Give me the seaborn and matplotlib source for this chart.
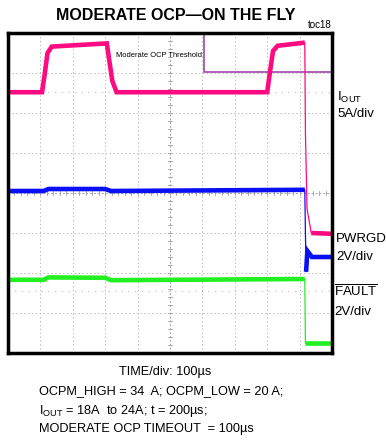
import numpy as np
import pandas as pd
import matplotlib
matplotlib.use('Agg')
import matplotlib.pyplot as plt
import seaborn as sns

sns.set_style('white')
plt.rcParams['font.family'] = ['Liberation Sans', 'DejaVu Sans']
plt.rcParams['text.color'] = 'black'

# ---- data (time in µs, level in screen divisions) ----
iout_t = [0, 105, 112, 122, 135, 305, 311, 322, 335, 800, 808, 818, 832, 916, 918, 923, 936, 1000]
iout_v = [2.52, 2.52, 2.9, 3.5, 3.66, 3.74, 3.4, 2.8, 2.52, 2.52, 3.0, 3.55, 3.68, 3.76, 1.5, -0.4, -1.0, -1.02]

pwrgd_t = [0, 110, 125, 300, 318, 916, 918, 920, 924, 938, 1000]
pwrgd_v = [0.05, 0.05, 0.1, 0.1, 0.05, 0.08, -1.0, -1.97, -1.45, -1.6, -1.6]

fault_t = [0, 110, 125, 300, 318, 916, 918, 1000]
fault_v = [-2.17, -2.17, -2.11, -2.12, -2.18, -2.15, -3.76, -3.76]

thr_t = [605, 605, 1000]
thr_v = [4.0, 3.02, 3.02]

traces = [
    ('IOUT', iout_t, iout_v, '#FF0A80', (916, 936)),
    ('PWRGD', pwrgd_t, pwrgd_v, '#0A10F5', (916, 920)),
    ('FAULT', fault_t, fault_v, '#22F022', (916, 918)),
]

W, H = 386, 443
fig = plt.figure(figsize=(W / 100, H / 100), dpi=100)
ax = fig.add_axes([8 / W, 1 - 353 / H, (332 - 8) / W, (353 - 33) / H])

ax.set_xlim(0, 1000)
ax.set_ylim(-4, 4)
ax.set_xticks(np.arange(0, 1001, 100))
ax.set_yticks(np.arange(-4, 5, 1))
ax.tick_params(length=0, labelbottom=False, labelleft=False)
ax.grid(True, ls=(0, (1.5, 2.5)), color='#bdbdbd', lw=0.7)
ax.axvline(500, color='#a8a8a8', lw=0.7, ls=(0, (2, 2)))
ax.axhline(0, color='#a8a8a8', lw=0.7, ls=(0, (2, 2)))
for yy in np.arange(-4, 4.01, 0.2):
    ax.plot([493, 507], [yy, yy], color='#a8a8a8', lw=0.7)
for xx in np.arange(0, 1001, 20):
    ax.plot([xx, xx], [-0.05, 0.05], color='#a8a8a8', lw=0.7)
ax.axhline(2.52, color='#b8b8b8', lw=0.8, ls=(0, (1, 5)))
ax.axhline(-2.45, color='#b8b8b8', lw=0.8, ls=(0, (1, 5)))

for s in ax.spines.values():
    s.set_color('black')
    s.set_linewidth(2.5)

# threshold
sns.lineplot(x=thr_t, y=thr_v, ax=ax, color='#A048A8', lw=1.2, estimator=None, sort=False)
ax.text(598, 3.43, 'Moderate OCP Threshold', ha='right', va='center', fontsize=5.4,
        color='black')

for name, t, v, c, (a, b) in traces:
    t = np.array(t, float)
    v = np.array(v, float)
    sns.lineplot(x=t, y=v, ax=ax, color=c, lw=0.9, estimator=None, sort=False)
    pre = t <= a
    post = t >= b
    sns.lineplot(x=t[pre], y=v[pre], ax=ax, color=c, lw=3.3, estimator=None, sort=False,
                 solid_capstyle='butt', solid_joinstyle='miter')
    sns.lineplot(x=t[post], y=v[post], ax=ax, color=c, lw=3.3, estimator=None, sort=False,
                 solid_capstyle='butt', solid_joinstyle='miter')

def ft(x, y, s, **kw):
    fig.text(x / W, 1 - y / H, s, **kw)

ft(176, 15, 'MODERATE OCP—ON THE FLY', ha='center', va='center', fontsize=11.5, fontweight='bold')
ft(332, 25, 'toc18', ha='right', va='center', fontsize=7)

ft(337, 97, r'I$_\mathregular{OUT}$', ha='left', va='center', fontsize=9.5)
ft(337, 114, '5A/div', ha='left', va='center', fontsize=9.5)
ft(336, 239, 'PWRGD', ha='left', va='center', fontsize=9.5)
ft(336, 257, '2V/div', ha='left', va='center', fontsize=9.5)
ft(334, 292, r'$\overline{\mathregular{FAULT}}$', ha='left', va='center', fontsize=9.5)
ft(334, 312, '2V/div', ha='left', va='center', fontsize=9.5)

ft(165, 372, 'TIME/div: 100µs', ha='center', va='center', fontsize=9.2)
ft(39, 391, 'OCPM_HIGH = 34  A; OCPM_LOW = 20 A;', ha='left', va='center', fontsize=9.2)
ft(39, 411, r'I$_\mathregular{OUT}$ = 18A  to 24A; t = 200µs;', ha='left', va='center', fontsize=9.2)
ft(39, 429, 'MODERATE OCP TIMEOUT  = 100µs', ha='left', va='center', fontsize=9.2)

fig.savefig('out.png', dpi=100)
